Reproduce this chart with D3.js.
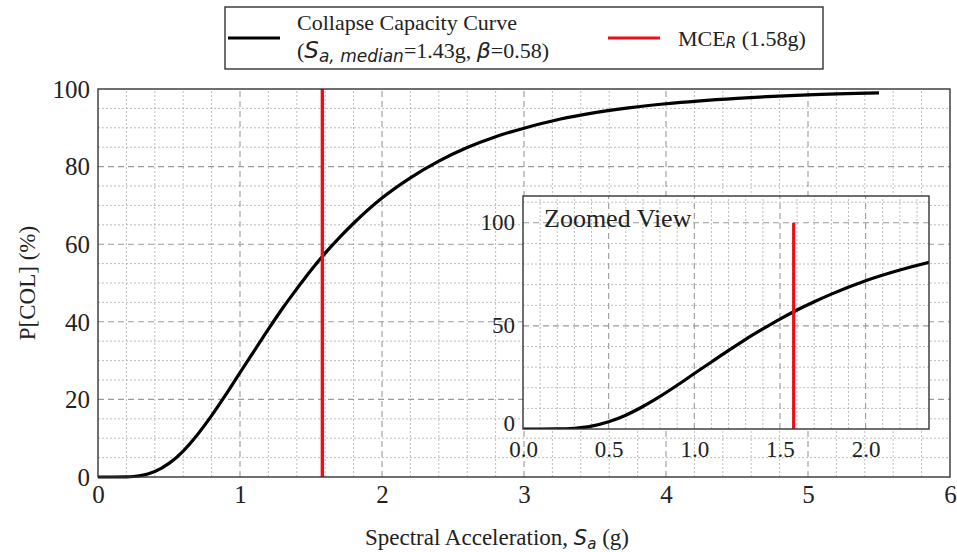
<!DOCTYPE html>
<html>
<head>
<meta charset="utf-8">
<script src="https://cdn.jsdelivr.net/npm/d3@7/dist/d3.min.js"></script>
<style>
  html, body { margin: 0; padding: 0; background: #fff; }
  svg { display: block; }
  text { font-family: "Liberation Serif", "Times New Roman", serif; fill: #222; }
  .math { font-family: "DejaVu Sans", sans-serif; font-style: italic; }
</style>
</head>
<body>
<svg id="chart" width="957" height="552"></svg>
<script>
// Collapse fragility curve: spectral acceleration (g) vs probability of collapse (%)
const sa = [0, 0.1, 0.2, 0.25, 0.3, 0.35, 0.4, 0.5, 0.6, 0.7, 0.8, 0.9, 1.0, 1.1, 1.2, 1.3,
            1.4, 1.5, 1.6, 1.7, 1.8, 2.0, 2.2, 2.4, 2.6, 2.8, 3.0, 3.25, 3.5, 3.75, 4.0,
            4.5, 5.0, 5.5];
const pCol = [0, 0.0002, 0.035, 0.13, 0.35, 0.76, 1.4, 3.5, 6.7, 10.9, 15.8, 21.2, 26.9, 32.5,
              38.1, 43.5, 48.5, 53.3, 57.7, 61.7, 65.4, 71.9, 77.1, 81.4, 84.9, 87.7, 89.9,
              92.2, 93.9, 95.2, 96.2, 97.6, 98.5, 99.0];
const mceR = 1.58;          // MCE_R spectral acceleration (g)
const xTicks = [0, 1, 2, 3, 4, 5, 6];
const yTicks = [0, 20, 40, 60, 80, 100];
const insetXTicks = [0.0, 0.5, 1.0, 1.5, 2.0];
const insetYTicks = [0, 50, 100];

const curve = sa.map((x, i) => ({ x, y: pCol[i] }));
const svg = d3.select("#chart");

const majorGrid = { stroke: "#9a9a9a", width: 1.1, dash: "6,4" };
const minorGrid = { stroke: "#b4b4b4", width: 0.9, dash: "2,2" };

function drawGrid(g, xs, ys, xVals, yVals, style) {
  g.selectAll(null).data(xVals).enter().append("line")
    .attr("x1", d => xs(d)).attr("x2", d => xs(d))
    .attr("y1", ys.range()[0]).attr("y2", ys.range()[1])
    .attr("stroke", style.stroke).attr("stroke-width", style.width)
    .attr("stroke-dasharray", style.dash);
  g.selectAll(null).data(yVals).enter().append("line")
    .attr("y1", d => ys(d)).attr("y2", d => ys(d))
    .attr("x1", xs.range()[0]).attr("x2", xs.range()[1])
    .attr("stroke", style.stroke).attr("stroke-width", style.width)
    .attr("stroke-dasharray", style.dash);
}

// ---------- main panel ----------
const x = d3.scaleLinear().domain([0, 6]).range([98, 950]);
const y = d3.scaleLinear().domain([0, 100]).range([477, 89]);

const grid = svg.append("g");
const minorX = d3.range(0.2, 6, 0.2).filter(v => Math.abs(v - Math.round(v)) > 1e-6);
const minorY = d3.range(5, 100, 5).filter(v => v % 20 !== 0);
drawGrid(grid, x, y, minorX, minorY, minorGrid);
drawGrid(grid, x, y, xTicks.slice(1, -1), yTicks.slice(1, -1), majorGrid);

const line = d3.line().x(d => x(d.x)).y(d => y(d.y)).curve(d3.curveMonotoneX);
svg.append("path").datum(curve).attr("d", line)
  .attr("fill", "none").attr("stroke", "#000").attr("stroke-width", 3.2);

svg.append("line")
  .attr("x1", x(mceR)).attr("x2", x(mceR)).attr("y1", y(0)).attr("y2", y(100))
  .attr("stroke", "#e8101a").attr("stroke-width", 3.4);

svg.append("rect").attr("x", 98).attr("y", 89).attr("width", 852).attr("height", 388)
  .attr("fill", "none").attr("stroke", "#333").attr("stroke-width", 1.4);

const xAxis = d3.axisBottom(x).tickValues(xTicks).tickSize(0).tickPadding(10).tickFormat(d3.format("d"));
const gx = svg.append("g").attr("transform", "translate(0,477)").call(xAxis);
gx.select(".domain").remove();
gx.selectAll("text").attr("font-size", 25).attr("fill", "#222").attr("dy", "0.62em")
  .attr("font-family", "Liberation Serif");

const yAxis = d3.axisLeft(y).tickValues(yTicks).tickSize(0).tickPadding(8).tickFormat(d3.format("d"));
const gy = svg.append("g").attr("transform", "translate(98,0)").call(yAxis);
gy.select(".domain").remove();
gy.selectAll("text").attr("font-size", 25).attr("fill", "#222").attr("dy", "0.33em")
  .attr("font-family", "Liberation Serif");

// axis titles
const xt = svg.append("text").attr("x", 497).attr("y", 545).attr("text-anchor", "middle")
  .attr("font-size", 23);
xt.append("tspan").text("Spectral Acceleration, ");
xt.append("tspan").attr("class", "math").attr("font-size", 21).text("S");
xt.append("tspan").attr("class", "math").attr("font-size", 15).attr("dy", 4).text("a");
xt.append("tspan").attr("dy", -4).text(" (g)");

svg.append("text").attr("transform", "translate(35,283) rotate(-90)")
  .attr("text-anchor", "middle").attr("font-size", 23).text("P[COL] (%)");

// ---------- inset ----------
const ix = d3.scaleLinear().domain([0, 1.5 * mceR]).range([523, 929]);
const iy = d3.scaleLinear().domain([0, 113]).range([429, 196]);

svg.append("rect").attr("x", 523).attr("y", 196).attr("width", 406).attr("height", 233)
  .attr("fill", "#fff");

const igrid = svg.append("g");
const iMinorX = d3.range(0.1, 2.37, 0.1).filter(v => Math.abs(v / 0.5 - Math.round(v / 0.5)) > 1e-6);
const iMinorY = d3.range(10, 113, 10).filter(v => v % 50 !== 0);
drawGrid(igrid, ix, iy, iMinorX, iMinorY, minorGrid);
drawGrid(igrid, ix, iy, insetXTicks.slice(1), insetYTicks.slice(1), majorGrid);

svg.append("defs").append("clipPath").attr("id", "insetClip")
  .append("rect").attr("x", 523).attr("y", 196).attr("width", 406).attr("height", 233);

const iline = d3.line().x(d => ix(d.x)).y(d => iy(d.y)).curve(d3.curveMonotoneX);
svg.append("path").datum(curve).attr("d", iline).attr("clip-path", "url(#insetClip)")
  .attr("fill", "none").attr("stroke", "#000").attr("stroke-width", 3.2);

svg.append("line")
  .attr("x1", ix(mceR)).attr("x2", ix(mceR)).attr("y1", iy(0)).attr("y2", iy(100))
  .attr("stroke", "#e8101a").attr("stroke-width", 3.2);

svg.append("rect").attr("x", 523).attr("y", 196).attr("width", 406).attr("height", 233)
  .attr("fill", "none").attr("stroke", "#333").attr("stroke-width", 1.4);

const ixAxis = d3.axisBottom(ix).tickValues(insetXTicks).tickSize(0).tickPadding(9).tickFormat(d3.format(".1f"));
const gix = svg.append("g").attr("transform", "translate(0,429)").call(ixAxis);
gix.select(".domain").remove();
gix.selectAll("text").attr("font-size", 23).attr("fill", "#222").attr("dy", 19)
  .attr("font-family", "Liberation Serif");

const iyAxis = d3.axisLeft(iy).tickValues(insetYTicks).tickSize(0).tickPadding(8).tickFormat(d3.format("d"));
const giy = svg.append("g").attr("transform", "translate(523,0)").call(iyAxis);
giy.select(".domain").remove();
giy.selectAll("text").attr("font-size", 23).attr("fill", "#222").attr("dy", "0.3em")
  .attr("font-family", "Liberation Serif");
// keep the inset's "0" clear of the "0.0" below it
giy.selectAll(".tick").filter(d => d === 0).select("text").attr("dy", 1);

svg.append("text").attr("x", 544).attr("y", 227).attr("font-size", 26).text("Zoomed View");

// ---------- legend ----------
const lg = svg.append("g");
lg.append("rect").attr("x", 225).attr("y", 7).attr("width", 598).attr("height", 62)
  .attr("fill", "#fff").attr("stroke", "#333").attr("stroke-width", 1.4);
lg.append("line").attr("x1", 228).attr("x2", 280).attr("y1", 38).attr("y2", 38)
  .attr("stroke", "#000").attr("stroke-width", 3.2);
lg.append("text").attr("x", 297).attr("y", 30).attr("font-size", 22).text("Collapse Capacity Curve");
const l2 = lg.append("text").attr("x", 297).attr("y", 58).attr("font-size", 22);
l2.append("tspan").text("(");
l2.append("tspan").attr("class", "math").attr("font-size", 23).text("S");
l2.append("tspan").attr("class", "math").attr("font-size", 17).attr("dy", 4).text("a, median");
l2.append("tspan").attr("dy", -4).text("=1.43g, ");
l2.append("tspan").attr("class", "math").attr("font-size", 22).text("β");
l2.append("tspan").text("=0.58)");

lg.append("line").attr("x1", 608).attr("x2", 660).attr("y1", 38).attr("y2", 38)
  .attr("stroke", "#e8101a").attr("stroke-width", 3.2);
const l3 = lg.append("text").attr("x", 678).attr("y", 46).attr("font-size", 22);
l3.append("tspan").text("MCE");
l3.append("tspan").attr("class", "math").attr("font-size", 15).attr("dy", 2).text("R");
l3.append("tspan").attr("dy", -2).text(" (1.58g)");
</script>
</body>
</html>
